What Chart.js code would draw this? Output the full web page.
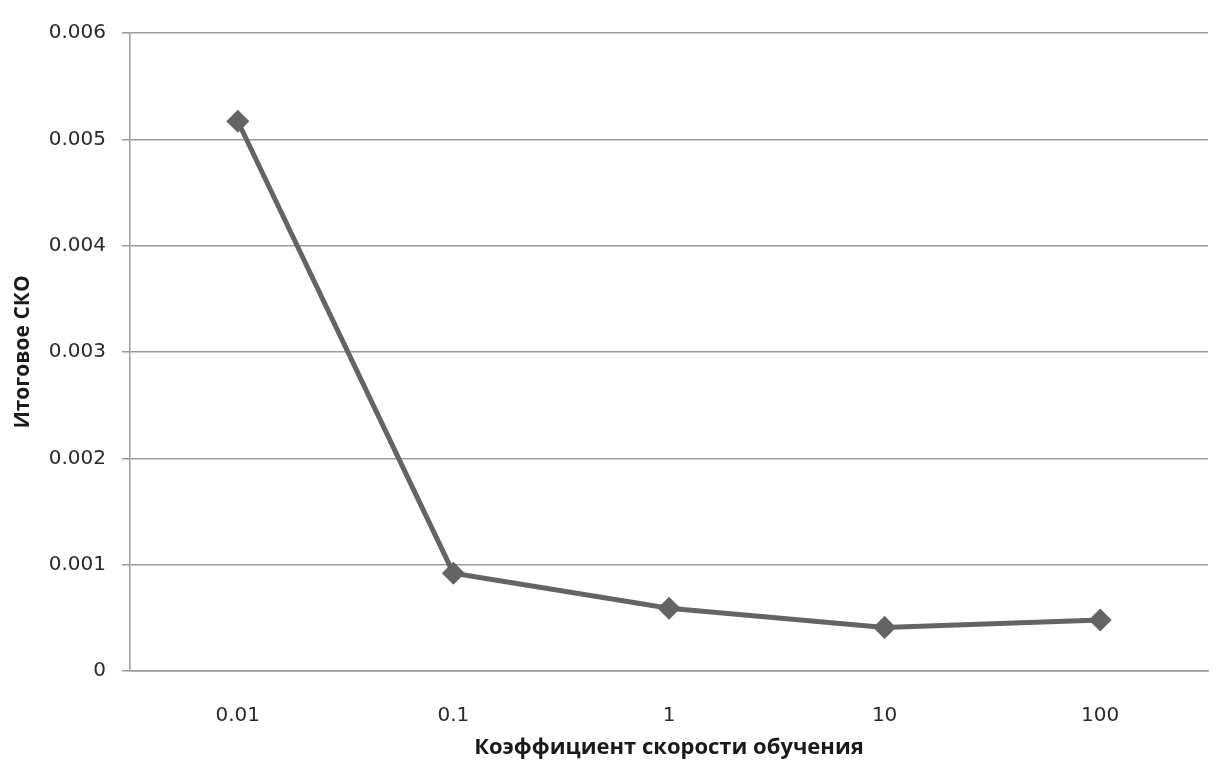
<!DOCTYPE html>
<html>
<head>
<meta charset="utf-8">
<script src="https://cdn.jsdelivr.net/npm/chart.js@4/dist/chart.umd.min.js"></script>
<style>
  html, body { margin: 0; padding: 0; background: #fff; }
  #wrap { width: 1229px; height: 765px; }
</style>
</head>
<body>
<div id="wrap"><canvas id="chart"></canvas></div>
<script>
let rates = ["0.01", "0.1", "1", "10", "100"];
let errors = [0.00517, 0.00092, 0.00059, 0.00041, 0.00048];
let yTicks = [0, 0.001, 0.002, 0.003, 0.004, 0.005, 0.006];

let lineGray = "#646464";
let gridGray = "#9a9a9a";
let tickFont = "'DejaVu Sans', sans-serif";
let titleFont = "'Open Sans', 'DejaVu Sans', sans-serif";

new Chart("chart", {
  type: "line",
  data: {
    labels: rates,
    datasets: [{
      data: errors,
      borderColor: lineGray,
      backgroundColor: lineGray,
      borderWidth: 5,
      pointStyle: "rectRot",
      pointRadius: 8,
      pointHoverRadius: 8,
      tension: 0
    }]
  },
  options: {
    responsive: true,
    maintainAspectRatio: false,
    animation: false,
    layout: {padding: {top: 33, right: 21, left: 0, bottom: 0}},
    plugins: {legend: {display: false}, tooltip: {enabled: false}},
    scales: {
      x: {
        offset: true,
        grid: {display: false},
        border: {display: true, color: gridGray, width: 1.5},
        ticks: {color: "#2a2a2a", font: {family: tickFont, size: 20}, padding: 25},
        title: {
          display: true,
          text: "Коэффициент скорости обучения",
          color: "#1a1a1a",
          font: {family: titleFont, size: 22, weight: "bold"},
          padding: {top: 4}
        },
        afterFit: function(scale){ scale.height = 94; }
      },
      y: {
        min: 0,
        max: 0.006,
        afterBuildTicks: function(scale){
          scale.ticks = yTicks.map(v => ({value: v}));
        },
        grid: {color: gridGray, lineWidth: 1.5, tickLength: 8},
        border: {display: true, color: gridGray, width: 1.5},
        ticks: {
          color: "#2a2a2a",
          font: {family: tickFont, size: 20},
          padding: 16,
          callback: function(v){ return v === 0 ? "0" : v.toFixed(3); }
        },
        title: {
          display: true,
          text: "Итоговое СКО",
          color: "#1a1a1a",
          font: {family: titleFont, size: 21, weight: "bold"},
          padding: {top: 10, bottom: 4}
        },
        afterFit: function(scale){ scale.width = 130; }
      }
    }
  }
});
</script>
</body>
</html>
